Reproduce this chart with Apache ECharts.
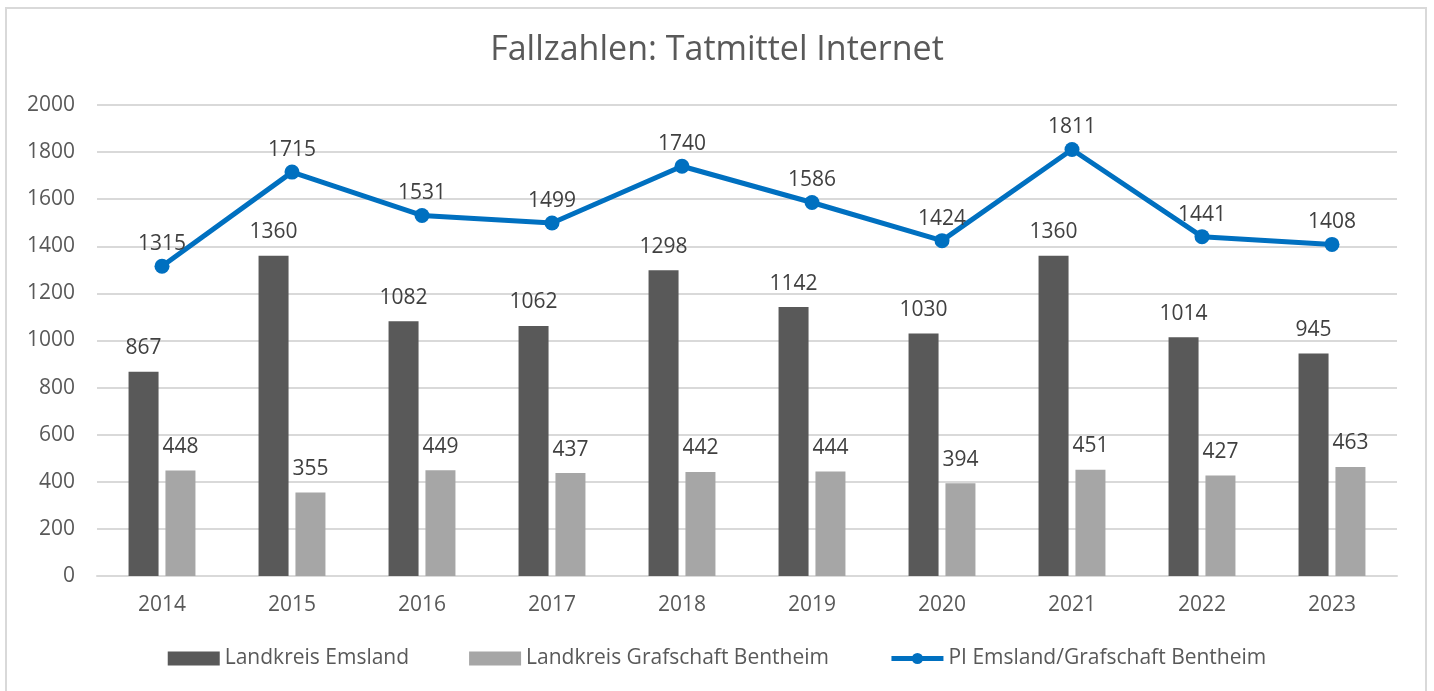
<!DOCTYPE html>
<html><head><meta charset="utf-8">
<script src="https://cdn.jsdelivr.net/npm/echarts@6/dist/echarts.min.js"></script>
<style>html,body{margin:0;padding:0;background:#fff}#c{width:1434px;height:691px}</style>
</head><body><div id="c"></div>
<script>
const years = ['2014','2015','2016','2017','2018','2019','2020','2021','2022','2023'];
const emsland = [867,1360,1082,1062,1298,1142,1030,1360,1014,945];
const bentheim = [448,355,449,437,442,444,394,451,427,463];
const pi = [1315,1715,1531,1499,1740,1586,1424,1811,1441,1408];
const names = ['Landkreis Emsland','Landkreis Grafschaft Bentheim','PI Emsland/Grafschaft Bentheim'];
const F = '"Open Sans", "Noto Sans", sans-serif';
const chart = echarts.init(document.getElementById('c'), null, {renderer:'canvas'});
chart.setOption({
  animation:false,
  textStyle:{fontFamily:F},
  graphic:[{type:'rect',shape:{x:6,y:8,width:1420,height:700},style:{fill:'none',stroke:'#d9d9d9',lineWidth:2},silent:true}],
  title:{text:'Fallzahlen: Tatmittel Internet',left:'center',top:28,textStyle:{fontFamily:F,fontSize:34,fontWeight:'normal',color:'#595959'}},
  legend:{bottom:17,itemGap:60,textStyle:{fontFamily:F,fontSize:21,color:'#595959'},
    data:[{name:names[0],icon:'rect'},{name:names[1],icon:'rect'},{name:names[2],lineStyle:{width:5,color:'#0070c0'},itemStyle:{color:'#0070c0'}}],
    itemWidth:52,itemHeight:14},
  grid:{left:97,right:37,top:105,bottom:115,containLabel:false},
  xAxis:{type:'category',data:years,axisLine:{lineStyle:{color:'#d9d9d9',width:2}},axisTick:{show:false},
    axisLabel:{margin:19,fontSize:21,color:'#595959',fontFamily:F}},
  yAxis:{type:'value',min:0,max:2000,interval:200,axisLabel:{margin:22,fontSize:21,color:'#595959',fontFamily:F,formatter:v=>String(v)},
    splitLine:{lineStyle:{color:'#d9d9d9',width:2}},axisLine:{show:false}},
  series:[
    {name:names[0],type:'bar',data:emsland,barWidth:30,barGap:'23%',itemStyle:{color:'#595959'},
      label:{show:true,position:'top',distance:13,fontSize:21,color:'#404040',fontFamily:F}},
    {name:names[1],type:'bar',data:bentheim,barWidth:30,barGap:'23%',itemStyle:{color:'#a6a6a6'},
      label:{show:true,position:'top',distance:13,fontSize:21,color:'#404040',fontFamily:F}},
    {name:names[2],type:'line',data:pi,symbol:'circle',symbolSize:15,lineStyle:{color:'#0070c0',width:5},itemStyle:{color:'#0070c0'},
      label:{show:true,position:'top',distance:4,fontSize:21,color:'#404040',fontFamily:F}}
  ]
});
</script></body></html>
